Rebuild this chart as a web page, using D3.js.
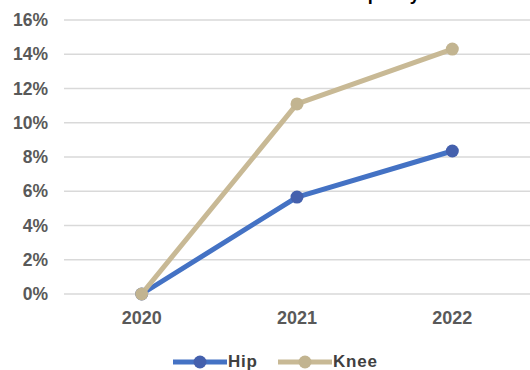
<!DOCTYPE html>
<html>
<head>
<meta charset="utf-8">
<script src="https://cdn.jsdelivr.net/npm/d3@7"></script>
<style>
  html, body { margin: 0; padding: 0; background: #fff; }
  svg { display: block; }
  text { font-family: "Liberation Sans", Arial, sans-serif; font-weight: bold; }
</style>
</head>
<body>
<div id="chart"></div>
<script>
// Cumulative increase by year, per procedure type
const years = ["2020", "2021", "2022"];
const hipValues = [0, 0.0566, 0.0835];
const kneeValues = [0, 0.111, 0.143];
const yTicks = [0, 0.02, 0.04, 0.06, 0.08, 0.10, 0.12, 0.14, 0.16];
const seriesNames = ["Hip", "Knee"];
const seriesColors = ["#4472c4", "#c8b995"];
const markerColors = ["#4460ad", "#c2b490"];
const chartTitle = "Cumulative Increase in Arthroplasty Procedures";

const width = 530, height = 370;
const margin = { top: 20, right: 0, bottom: 76, left: 64 };

const svg = d3.select("#chart").append("svg")
  .attr("width", width).attr("height", height);

const x = d3.scaleBand().domain(years).range([margin.left, width - margin.right]);
const y = d3.scaleLinear().domain([0, 0.16]).range([height - margin.bottom, margin.top]);

// Title sits just above the top edge of the frame
svg.append("text")
  .attr("x", 318).attr("y", 0)
  .attr("text-anchor", "middle")
  .attr("font-size", 18)
  .attr("fill", "#000")
  .text(chartTitle);

// Horizontal gridlines
svg.append("g")
  .selectAll("line")
  .data(yTicks)
  .join("line")
  .attr("x1", margin.left).attr("x2", width)
  .attr("y1", d => y(d)).attr("y2", d => y(d))
  .attr("stroke", "#d9d9d9").attr("stroke-width", 1.5);

// Y axis labels
const yAxis = d3.axisLeft(y).tickValues(yTicks).tickFormat(d3.format(".0%")).tickSize(0).tickPadding(16);
const gy = svg.append("g").attr("transform", `translate(${margin.left},0)`).call(yAxis);
gy.select(".domain").remove();
gy.selectAll("text").attr("font-size", 17.5).attr("fill", "#595959")
  .attr("font-family", "'Liberation Sans', Arial, sans-serif").attr("font-weight", "bold");

// X axis labels
const xAxis = d3.axisBottom(x).tickSize(0).tickPadding(17);
const gx = svg.append("g").attr("transform", `translate(0,${y(0)})`).call(xAxis);
gx.select(".domain").remove();
gx.selectAll("text").attr("font-size", 18).attr("fill", "#595959")
  .attr("font-family", "'Liberation Sans', Arial, sans-serif").attr("font-weight", "bold");

const cx = d => x(d) + x.bandwidth() / 2;
const line = d3.line().x((d, i) => cx(years[i])).y(d => y(d));

const series = [hipValues, kneeValues];
[0, 1].forEach(k => {
  const g = svg.append("g");
  g.append("path")
    .datum(series[k])
    .attr("d", line)
    .attr("fill", "none")
    .attr("stroke", seriesColors[k])
    .attr("stroke-width", 5)
    .attr("stroke-linejoin", "round");
  g.selectAll("circle")
    .data(series[k])
    .join("circle")
    .attr("cx", (d, i) => cx(years[i]))
    .attr("cy", d => y(d))
    .attr("r", 6.5)
    .attr("fill", markerColors[k]);
});

// Legend
const legendX = [173, 278];
const legend = svg.append("g");
seriesNames.forEach((name, k) => {
  const lx = legendX[k], ly = 362;
  legend.append("line")
    .attr("x1", lx).attr("x2", lx + 54)
    .attr("y1", ly).attr("y2", ly)
    .attr("stroke", seriesColors[k]).attr("stroke-width", 5);
  legend.append("circle")
    .attr("cx", lx + 27).attr("cy", ly).attr("r", 6.5)
    .attr("fill", markerColors[k]);
  legend.append("text")
    .attr("x", lx + 55).attr("y", ly + 4.5)
    .attr("font-size", 17).attr("letter-spacing", 0.8)
    .attr("fill", "#404040")
    .text(name);
});
</script>
</body>
</html>
